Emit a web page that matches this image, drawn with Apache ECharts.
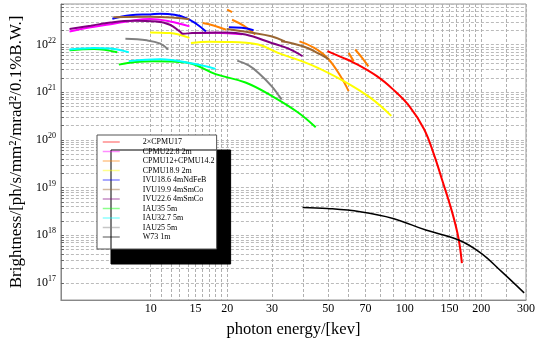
<!DOCTYPE html>
<html>
<head>
<meta charset="utf-8">
<script src="https://cdn.jsdelivr.net/npm/echarts@6/dist/echarts.min.js"></script>
<style>
  html, body { margin: 0; padding: 0; background: #fff; }
  #chart { width: 538px; height: 343px; }
</style>
</head>
<body>
<div id="chart"></div>
<script>
// tick labels and grid lines
const energyLabels = [10, 15, 20, 30, 50, 70, 100, 150, 200, 300]
const energyGrid = [10, 11, 12, 13, 14, 15, 16, 17, 18, 19, 20, 30, 40, 50, 60, 70, 80, 90, 100,
  110, 120, 130, 140, 150, 160, 170, 180, 190, 200, 250, 300]
const brightLabels = [1e17, 1e18, 1e19, 1e20, 1e21, 1e22]
const brightGrid = []
for (let p = 17; p <= 22; p++) {
  for (let k = 1; k <= 9; k++) {
    if (p === 22 && k > 7) break
    brightGrid.push(k * Math.pow(10, p))
  }
}

// tuning curves: [energy keV, brightness], one inner array per harmonic piece
const cpmu17x2 = [
  [[49.6, 7.3e21], [56.6, 5.4e21], [62.9, 4.2e21], [77.4, 2.2e21], [89.9, 1.15e21], [104, 5.2e20],
   [119, 1.7e20], [130, 5.1e19], [140, 1.5e19], [153.5, 3.1e18], [162.7, 8.7e17], [167.8, 2.6e17]]
]
const cpmu228 = [
  [[4.79, 1.89e22], [5.81, 2.31e22], [6.95, 2.67e22], [8.54, 3.21e22], [9.94, 3.43e22], [11.9, 3.06e22], [14.2, 2.41e22]],
  [[14.4, 1.75e22], [18, 1.78e22], [22.9, 1.65e22]]
]
const cpmu12142 = [
  [[16.0, 2.83e22], [17.8, 2.49e22], [19.8, 2.05e22]],
  [[20.0, 5.4e22], [20.9, 4.8e22]],
  [[20.9, 3.32e22], [23.2, 2.49e22], [25.8, 1.62e22]],
  [[38.5, 1.17e22], [43.4, 8.9e21], [49.5, 5.3e21], [55.8, 2.19e21], [60.1, 1.06e21]],
  [[60.1, 6.7e21], [62.9, 4.5e21]],
  [[63.8, 7.9e21], [67.7, 5.4e21], [71.9, 3.5e21]]
]
const cpmu189 = [
  [[9.94, 1.80e22], [11.9, 1.74e22], [14.2, 1.38e22]],
  [[14.4, 1.08e22], [17.0, 1.15e22], [19.7, 1.14e22], [26.5, 1.0e22], [31.7, 6.7e21], [42.6, 3.8e21],
   [57.5, 1.72e21], [72.9, 7.8e20], [88.5, 3.2e20]]
]
const ivu186 = [
  [[7.06, 3.48e22], [8.31, 4.12e22], [9.94, 4.3e22], [10.9, 4.43e22], [12.4, 4.22e22], [13.8, 3.6e22], [15.1, 2.74e22], [16.5, 1.89e22]],
  [[20.3, 2.3e22], [22.8, 2.25e22], [25.4, 2.0e22]]
]
const ivu199 = [
  [[7.14, 3.74e22], [9.94, 3.83e22], [12.4, 3.65e22], [14.2, 3.4e22]],
  [[19.9, 2.12e22], [24.9, 1.78e22], [29.8, 1.49e22], [33.7, 1.17e22]],
  [[32.6, 1.17e22], [35.6, 1.08e22], [41.4, 8.5e21], [46.5, 6.2e21], [50.3, 4.9e21]]
]
const ivu226 = [
  [[4.79, 2.12e22], [5.81, 2.49e22], [6.95, 2.91e22], [8.54, 3.16e22], [10.55, 3.06e22], [11.9, 2.61e22], [13.0, 1.89e22],
   [13.4, 1.69e22], [14.6, 1.75e22], [19.7, 1.80e22], [23.6, 1.62e22], [29.9, 1.08e22], [34.7, 8.3e21], [39.6, 5.7e21]]
]
const iau35 = [
  [[4.79, 7.6e21], [5.99, 8.1e21], [7.38, 6.9e21]],
  [[7.49, 3.8e21], [8.69, 4.3e21], [10.2, 4.5e21], [13.8, 4.2e21], [18.0, 2.4e21], [23.6, 1.6e21], [29.9, 8.4e20],
   [37.9, 3.8e20], [44.6, 1.84e20]]
]
const iau327 = [
  [[4.79, 7.9e21], [5.99, 8.5e21], [6.95, 8.3e21], [8.19, 6.9e21]],
  [[8.19, 4.5e21], [10.9, 4.9e21], [14.6, 4.0e21], [18.0, 3.1e21]]
]
const iau25 = [
  [[7.95, 1.33e22], [9.65, 1.23e22], [10.9, 1.05e22], [11.7, 7.9e21]],
  [[21.9, 4.6e21], [24.3, 3.65e21], [26.5, 2.57e21], [29.9, 1.35e21], [32.7, 7.1e20]]
]
const w73 = [
  [[39.6, 3.83e18], [49.6, 3.65e18], [66.7, 3.12e18], [89.9, 2.26e18], [121, 1.29e18], [163, 8.0e17],
   [200, 4.2e17], [240, 1.75e17], [295, 6.2e16]]
]

const sources = [
  { name: '2×CPMU17', color: '#ff0000', segs: cpmu17x2 },
  { name: 'CPMU22.8 2m', color: '#ff00ff', segs: cpmu228 },
  { name: 'CPMU12+CPMU14.2', color: '#ff8000', segs: cpmu12142 },
  { name: 'CPMU18.9 2m', color: '#ffff00', segs: cpmu189 },
  { name: 'IVU18.6 4mNdFeB', color: '#0000ff', segs: ivu186 },
  { name: 'IVU19.9 4mSmCo', color: '#996633', segs: ivu199 },
  { name: 'IVU22.6 4mSmCo', color: '#800080', segs: ivu226 },
  { name: 'IAU35 5m', color: '#00ff00', segs: iau35 },
  { name: 'IAU32.7 5m', color: '#00ffff', segs: iau327 },
  { name: 'IAU25 5m', color: '#808080', segs: iau25 },
  { name: 'W73 1m', color: '#000000', segs: w73 }
]

const font = 'Liberation Serif'
const series = []
sources.forEach(s => {
  s.segs.forEach(seg => {
    series.push({
      name: s.name,
      type: 'line',
      data: seg,
      symbol: 'none',
      smooth: 0.4,
      color: s.color,
      lineStyle: { color: s.color, width: s.name === 'W73 1m' ? 1.5 : 2 },
      z: s.name === 'W73 1m' ? 3 : 2
    })
  })
})

const chart = echarts.init(document.getElementById('chart'))
chart.setOption({
  animation: false,
  textStyle: { fontFamily: font },
  grid: {
    left: 59, right: 7, top: 4, bottom: 41,
    show: true, borderColor: '#999', borderWidth: 1
  },
  legend: {
    orient: 'vertical',
    left: 97,
    top: 135,
    data: sources.map(s => s.name),
    itemWidth: 17,
    itemHeight: 8,
    itemGap: 1.5,
    padding: [3, 2, 8, 5],
    backgroundColor: '#fff',
    borderColor: '#555',
    borderWidth: 1,
    shadowColor: '#000',
    shadowBlur: 0,
    shadowOffsetX: 14,
    shadowOffsetY: 15,
    lineStyle: { width: 1.5, opacity: 0.45 },
    itemStyle: { opacity: 0 },
    textStyle: { fontFamily: font, fontSize: 8, lineHeight: 8, color: '#000', padding: [0, 0, 0, 18] }
  },
  xAxis: {
    type: 'log',
    min: 4.43,
    max: 300,
    name: 'photon energy/[kev]',
    nameLocation: 'middle',
    nameGap: 21,
    nameTextStyle: { fontFamily: font, fontSize: 16.5, color: '#000', verticalAlign: 'top' },
    axisLine: { lineStyle: { color: '#888' } },
    axisTick: { show: false, customValues: energyGrid },
    axisLabel: {
      customValues: energyLabels,
      fontFamily: font, fontSize: 12, color: '#000', margin: 3,
      formatter: v => String(Math.round(v))
    },
    splitLine: { show: true, lineStyle: { color: '#b0b0b0', type: [3, 2], width: 1 } }
  },
  yAxis: {
    type: 'log',
    min: 4.4e16,
    max: 7.1e22,
    name: 'Brightness/[ph/s/mm²/mrad²/0.1%B.W.]',
    nameLocation: 'middle',
    nameGap: 31,
    nameTextStyle: { fontFamily: font, fontSize: 17, color: '#000' },
    axisLine: { lineStyle: { color: '#888' } },
    axisTick: { show: true, inside: true, length: 3, customValues: brightGrid, lineStyle: { color: '#666' } },
    axisLabel: {
      customValues: brightLabels,
      margin: 5,
      formatter: v => '10{s|' + Math.round(Math.log10(v)) + '}',
      rich: {
        s: { fontFamily: font, fontSize: 8, color: '#000', verticalAlign: 'bottom', padding: [0, 0, 8, 0] }
      },
      fontFamily: font, fontSize: 12, color: '#000'
    },
    splitLine: { show: true, lineStyle: { color: '#bbb', type: [3, 2], width: 1 } }
  },
  series: series
})
</script>
</body>
</html>
